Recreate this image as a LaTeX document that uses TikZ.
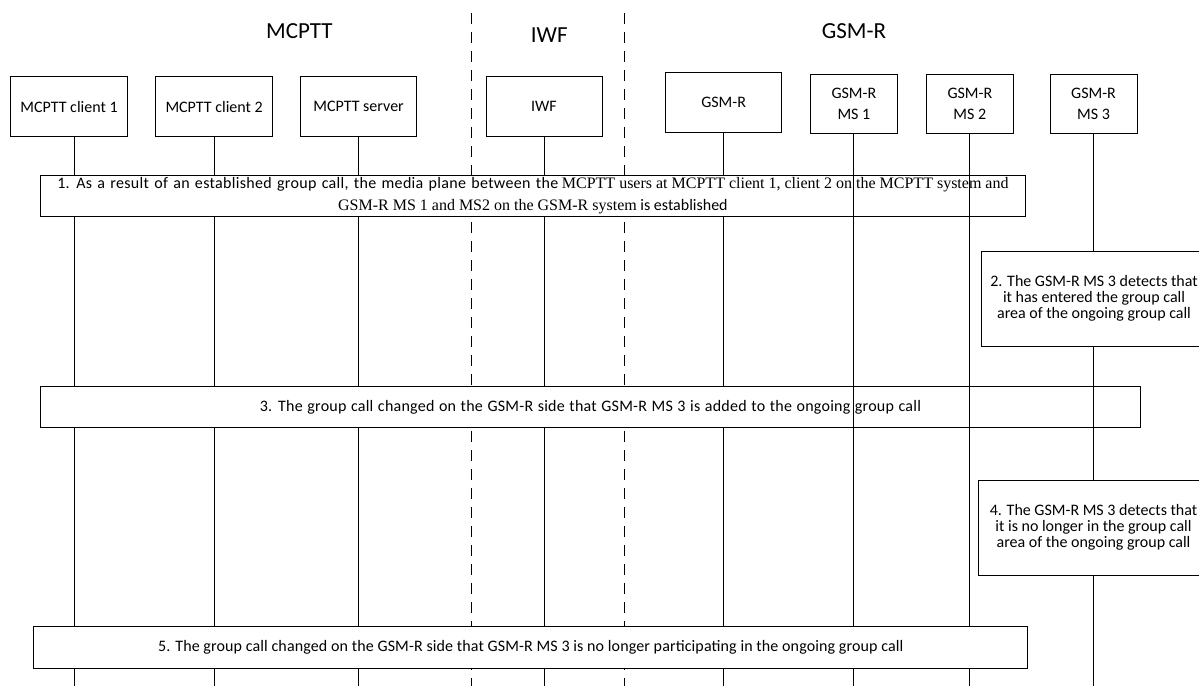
\documentclass[tikz,border=0pt]{standalone}
\usepackage{fontspec}
\setmainfont{Carlito}
\newfontfamily\tms{Liberation Serif}
\newfontfamily\widesans[LetterSpace=2]{Carlito}
\newfontfamily\midsans[LetterSpace=1.5]{Carlito}
\newfontfamily\lowsans[LetterSpace=0.8]{Carlito}
\begin{document}
\begin{tikzpicture}[x=1pt,y=-1pt,
  box/.style={draw, line width=1pt, fill=white, inner sep=0pt, font=\fontsize{16}{21.4}\selectfont, align=center},
  life/.style={line width=1pt},
  sepline/.style={line width=1pt, dash pattern=on 11pt off 8pt},
  ttl/.style={font=\fontsize{23}{27}\selectfont, inner sep=0pt},
  note/.style={draw, line width=1pt, fill=white, inner sep=0pt, font=\fontsize{16}{16}\selectfont, align=center},
  stepbox/.style={draw, line width=1pt, fill=white, inner sep=0pt, font=\fontsize{16}{21.4}\selectfont, align=center}]
\useasboundingbox (0,0) rectangle (1199,686);
\fill[white] (0,0) rectangle (1199,686);

% titles
\node[ttl] (tm) at (299.4,31.5) {MCPTT};
\node[ttl] (ti) at (549.3,35) {IWF};
\node[ttl] (tg) at (854,31.5) {GSM-R};

% separators
\coordinate (sa1) at (471.9,13.3);
\coordinate (sa2) at (471.9,686);
\coordinate (sb1) at (624.9,13.3);
\coordinate (sb2) at (624.9,686);
\draw[sepline] (sa1) -- (sa2);
\draw[sepline] (sb1) -- (sb2);

% entity boxes
\node[box, minimum width=116.7pt, minimum height=60pt] (c1) at (69.05,106.7) {MCPTT client 1};
\node[box, minimum width=116.7pt, minimum height=60pt] (c2) at (214.15,106.7) {MCPTT client 2};
\node[box, minimum width=115.6pt, minimum height=60pt] (srv) at (358.6,106.7) {MCPTT server};
\node[box, minimum width=116pt, minimum height=60pt] (iwf) at (544,106.7) {IWF};
\node[box, minimum width=115.6pt, minimum height=59.6pt] (gsm) at (723.6,102.5) {GSM-R};
\node[box, minimum width=87.6pt, minimum height=59.3pt] (ms1) at (853.9,103.65) {GSM-R\\MS 1};
\node[box, minimum width=86.9pt, minimum height=59.3pt] (ms2) at (969.85,103.65) {GSM-R\\MS 2};
\node[box, minimum width=87pt, minimum height=59.3pt] (ms3) at (1093.5,103.65) {GSM-R\\MS 3};

% lifeline ends
\coordinate (c1e) at (74.6,686);
\coordinate (c2e) at (214.15,686);
\coordinate (srve) at (358.6,686);
\coordinate (iwfe) at (544,686);
\coordinate (gsme) at (723.6,686);
\coordinate (ms1e) at (853.9,686);
\coordinate (ms2e) at (969.85,686);
\coordinate (ms3e) at (1093.5,686);

\draw[life] (c1e |- c1.south) -- (c1e);
\draw[life] (c2.south) -- (c2e);
\draw[life] (srv.south) -- (srve);
\draw[life] (iwf.south) -- (iwfe);
\draw[life] (gsm.south) -- (gsme);
\draw[life] (ms1.south) -- (ms1e);
\draw[life] (ms2.south) -- (ms2e);
\draw[life] (ms3.south) -- (ms3e);

% step boxes
\node[stepbox, minimum width=985.4pt, minimum height=41.7pt] (s1) at (532.9,195.85)
  {{\widesans\spaceskip=5.3pt 1. As a result of an established group call, the media plane between the} {\tms MCPTT users at MCPTT client 1, client 2 on the MCPTT system and}\\{\tms GSM-R MS 1 and MS2 on the GSM-R system} is established};
\node[note, minimum width=226pt, minimum height=95pt] (s2) at (1094,298.5)
  {2. The GSM-R MS 3 detects that\\it has entered the group call\\area of the ongoing group call};
\node[stepbox, minimum width=1100.6pt, minimum height=41pt] (s3) at (590.5,407)
  {{\midsans\spaceskip=4.6pt 3. The group call changed on the GSM-R side that GSM-R MS 3 is added to the ongoing group call}};
\node[note, minimum width=230.4pt, minimum height=95.5pt] (s4) at (1093.5,527.75)
  {4. The GSM-R MS 3 detects that\\it is no longer in the group call\\area of the ongoing group call};
\node[stepbox, minimum width=994.2pt, minimum height=41.6pt] (s5) at (530.8,647.5)
  {{\lowsans 5. The group call changed on the GSM-R side that GSM-R MS 3 is no longer participating in the ongoing group call}};

% lifelines crossing over step boxes
\draw[life] (ms1 |- s1.north) -- (ms1 |- s1.south);
\draw[life] (ms2 |- s1.north) -- (ms2 |- s1.south);
\draw[life] (ms1 |- s3.north) -- (ms1 |- s3.south);
\draw[life] (ms2 |- s3.north) -- (ms2 |- s3.south);
\draw[life] (ms3 |- s3.north) -- (ms3 |- s3.south);
\end{tikzpicture}
\end{document}
